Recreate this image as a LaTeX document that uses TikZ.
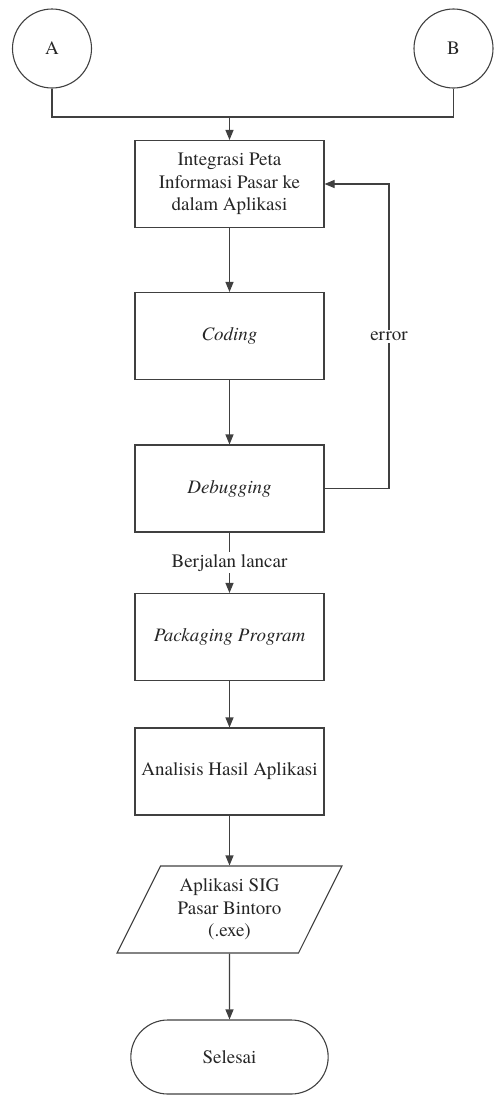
\documentclass[tikz,border=0pt]{standalone}
\usepackage{fontspec}
\setmainfont{texgyretermes-regular.otf}[ItalicFont=texgyretermes-italic.otf]
\usetikzlibrary{shapes.geometric,shapes.misc,arrows.meta}
\begin{document}
\begin{tikzpicture}[x=1pt,y=-1pt,
  every node/.style={font=\rmfamily\fontsize{19}{22.5}\selectfont, text=black!85},
  line/.style={draw=black!75, line width=1.1pt},
  arr/.style={line, -{Triangle[length=10pt,width=8pt]}},
  procbox/.style={line, rectangle, minimum width=189pt, minimum height=87pt, align=center, inner sep=2pt},
  conn/.style={line, circle, minimum size=79pt, inner sep=0pt},
  iobox/.style={line, trapezium, trapezium left angle=62, trapezium right angle=118, trapezium stretches=true, minimum width=225pt, minimum height=87pt, align=center, inner sep=0pt},
  term/.style={line, rounded rectangle, minimum width=204pt, minimum height=74pt},
  lbl/.style={fill=white, inner sep=2pt}]
\useasboundingbox (0,0) rectangle (493,1095);
\node[conn] (A) at (52,48.5) {A};
\node[conn] (B) at (453.5,48.5) {B};
\node[procbox] (int) at (229.5,184) {Integrasi Peta\\Informasi Pasar ke\\dalam Aplikasi};
\node[procbox] (cod) at (229.5,336) {\itshape Coding};
\node[procbox] (dbg) at (229.5,488.5) {\itshape Debugging};
\node[procbox] (pkg) at (229.5,637) {\itshape Packaging Program};
\node[procbox] (ana) at (229.5,771.5) {Analisis Hasil Aplikasi};
\node[iobox] (out) at (229.5,909.5) {Aplikasi SIG\\Pasar Bintoro\\(.exe)};
\node[term] (end) at (229.5,1057) {Selesai};
\coordinate (j) at (229.5,117);
\coordinate (fb) at (389,488.5);
\draw[line] (A.south) |- (j) -| (B.south);
\draw[arr] (j) -- (int.north);
\draw[arr] (int) -- (cod);
\draw[arr] (cod) -- (dbg);
\draw[arr] (dbg.east) -- (fb) |- node[lbl, pos=0.25] {error} (int.east);
\draw[arr] (dbg) -- node[lbl, pos=0.5] {Berjalan lancar} (pkg);
\draw[arr] (pkg) -- (ana);
\draw[arr] (ana) -- (out);
\draw[arr] (out) -- (end);
\end{tikzpicture}
\end{document}
